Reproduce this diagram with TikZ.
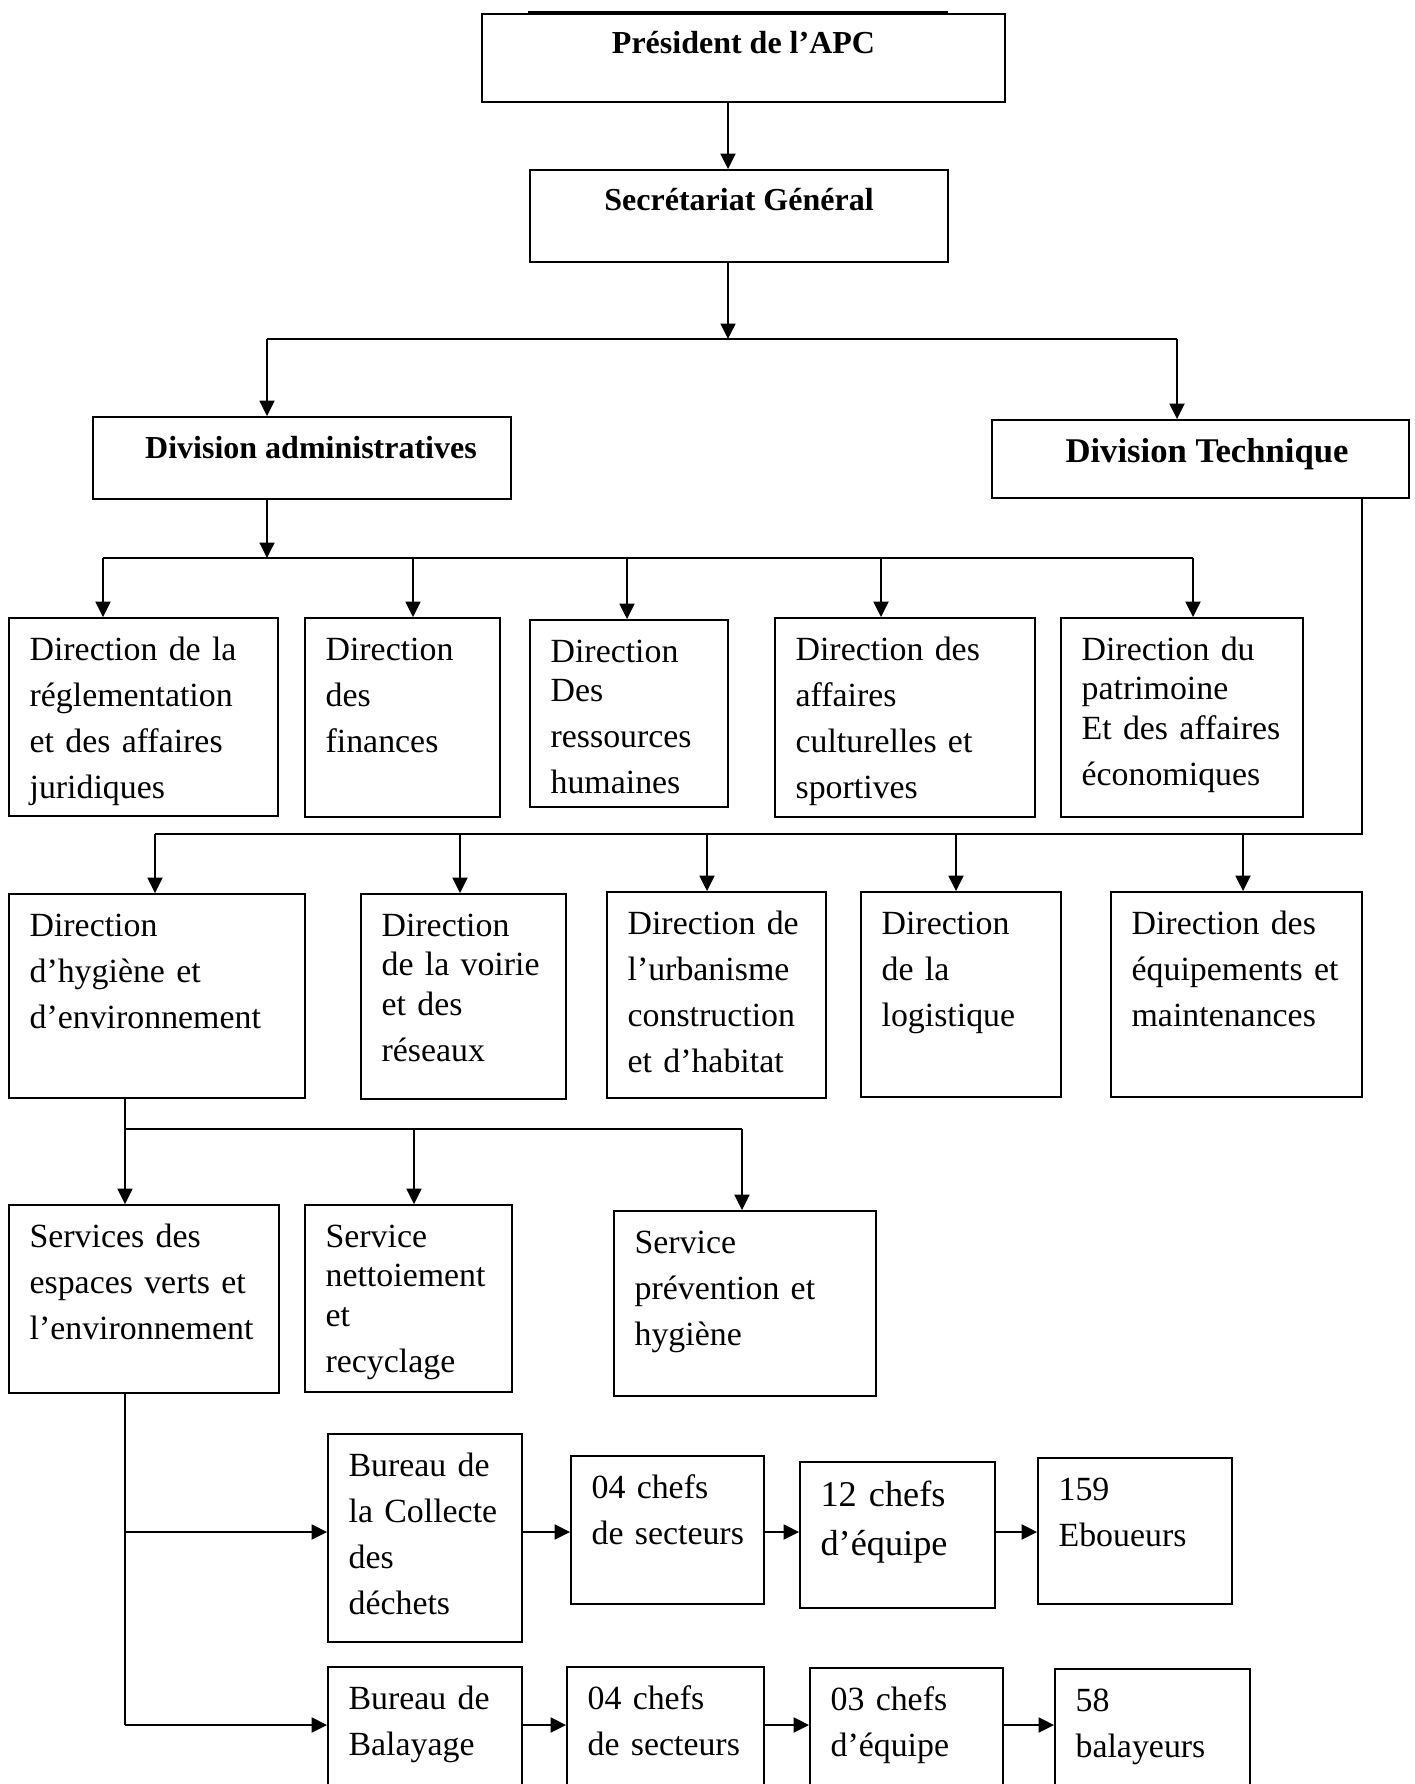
\documentclass[tikz,border=0pt]{standalone}
\usepackage{fontspec}
\setmainfont{Liberation Serif}
\usetikzlibrary{arrows.meta, fit, positioning}

\begin{document}
\begin{tikzpicture}[x=0.375pt, y=-0.375pt, >={Triangle[length=5.8pt, width=5.6pt]}]
  \tikzstyle{box}=[rectangle, draw=black, line width=0.7pt, inner sep=0pt]
  \tikzstyle{txt}=[anchor=base west, inner sep=0pt, align=left, text width=110pt, font=\fontsize{12.7}{17.25}\selectfont]
  \tikzstyle{head}=[anchor=base, inner sep=0pt, font=\fontsize{12}{14}\selectfont\bfseries]
  \tikzstyle{link}=[->, line width=0.75pt]

  \useasboundingbox (0,0) rectangle (1414,1784);
  \clip (0,0) rectangle (1414,1784);

  % top of the chart
  \node[box, fit={(482,14) (1005,102)}] (pres) {};
  \node[box, fit={(530,170) (948,262)}] (sg) {};
  \node[box, fit={(93,417) (511,499)}] (adm) {};
  \node[box, fit={(992,420) (1409,498)}] (tec) {};
  \draw[line width=0.75pt] (528,12) -- (948,12);

  \node[head] (presT) at ([shift={(0,40)}]pres.north) {Président de l’APC};
  \node[head] (sgT) at ([shift={(0,41)}]sg.north) {Secrétariat Général};
  \node[head] (admT) at ([shift={(9,42)}]adm.north) {Division administratives};
  \node[head, font=\fontsize{13}{16}\selectfont\bfseries] (tecT) at ([shift={(6.5,43.5)}]tec.north) {Division Technique};

  \coordinate (j1) at (728,339);
  \coordinate (jadm) at (267,339);
  \coordinate (jtec) at (1177,339);
  \draw[link] (pres.south -| j1) -- (sg.north -| j1);
  \draw[link] (sg.south -| j1) -- (j1);
  \draw[line width=0.75pt] (jadm) -- (jtec);
  \draw[link] (jadm) -- (jadm |- adm.north);
  \draw[link] (jtec) -- (jtec |- tec.north);

  % directions of the administrative division
  \node[box, fit={(9,618) (278,816)}] (reg) {};
  \node[box, fit={(305,618) (500,817)}] (fin) {};
  \node[box, fit={(530,620) (728,807)}] (rh) {};
  \node[box, fit={(775,618) (1035,817)}] (cult) {};
  \node[box, fit={(1061,618) (1303,817)}] (pat) {};

  \node[txt] (regT) at ([shift={(21,43)}]reg.north west) {Direction de la\\réglementation\\et des affaires\\juridiques};
  \node[txt] (finT) at ([shift={(21,43)}]fin.north west) {Direction\\des\\finances};
  \node[txt] (rhT) at ([shift={(21,43)}]rh.north west) {Direction\\[-2.3pt]Des\\ressources\\humaines};
  \node[txt] (cultT) at ([shift={(21,43)}]cult.north west) {Direction des\\affaires\\culturelles et\\sportives};
  \node[txt] (patT) at ([shift={(21,43)}]pat.north west) {Direction du\\[-2.3pt]patrimoine\\[-2.3pt]Et des affaires\\économiques};

  \coordinate (a1) at (103,558);
  \coordinate (a2) at (413,558);
  \coordinate (a3) at (627,558);
  \coordinate (a4) at (881,558);
  \coordinate (a5) at (1193,558);
  \draw[link] (adm.south -| jadm) -- (jadm |- a1);
  \draw[line width=0.75pt] (a1) -- (a5);
  \draw[link] (a1) -- (a1 |- reg.north);
  \draw[link] (a2) -- (a2 |- fin.north);
  \draw[link] (a3) -- (a3 |- rh.north);
  \draw[link] (a4) -- (a4 |- cult.north);
  \draw[link] (a5) -- (a5 |- pat.north);

  % directions of the technical division
  \node[box, fit={(9,894) (305,1098)}] (hyg) {};
  \node[box, fit={(361,894) (566,1099)}] (voi) {};
  \node[box, fit={(607,892) (826,1098)}] (urb) {};
  \node[box, fit={(861,892) (1061,1097)}] (logi) {};
  \node[box, fit={(1111,892) (1362,1097)}] (equ) {};

  \node[txt] (hygT) at ([shift={(21,43)}]hyg.north west) {Direction\\d’hygiène et\\d’environnement};
  \node[txt] (voiT) at ([shift={(21,43)}]voi.north west) {Direction\\[-2.3pt]de la voirie\\[-2.3pt]et des\\réseaux};
  \node[txt] (urbT) at ([shift={(21,43)}]urb.north west) {Direction de\\l’urbanisme\\construction\\et d’habitat};
  \node[txt] (logiT) at ([shift={(21,43)}]logi.north west) {Direction\\de la\\logistique};
  \node[txt] (equT) at ([shift={(21,43)}]equ.north west) {Direction des\\équipements et\\maintenances};

  \coordinate (k0) at (1362,834);
  \coordinate (k1) at (155,834);
  \coordinate (k2) at (460,834);
  \coordinate (k3) at (707,834);
  \coordinate (k4) at (956,834);
  \coordinate (k5) at (1243,834);
  \draw[line width=0.75pt] (tec.south -| k0) -- (k0) -- (k1);
  \draw[link] (k1) -- (k1 |- hyg.north);
  \draw[link] (k2) -- (k2 |- voi.north);
  \draw[link] (k3) -- (k3 |- urb.north);
  \draw[link] (k4) -- (k4 |- logi.north);
  \draw[link] (k5) -- (k5 |- equ.north);

  % services
  \node[box, fit={(9,1205) (279,1393)}] (esp) {};
  \node[box, fit={(305,1205) (512,1392)}] (net) {};
  \node[box, fit={(614,1211) (876,1396)}] (prev) {};

  \node[txt] (espT) at ([shift={(21,43)}]esp.north west) {Services des\\espaces verts et\\l’environnement};
  \node[txt] (netT) at ([shift={(21,43)}]net.north west) {Service\\[-2.3pt]nettoiement\\[-2.3pt]et\\recyclage};
  \node[txt] (prevT) at ([shift={(21,43)}]prev.north west) {Service\\prévention et\\hygiène};

  \coordinate (h0) at (125,1129);
  \coordinate (h2) at (414,1129);
  \coordinate (h3) at (742,1129);
  \draw[line width=0.75pt] (hyg.south -| h0) -- (h0) -- (h3);
  \draw[link] (h0) -- (h0 |- esp.north);
  \draw[link] (h2) -- (h2 |- net.north);
  \draw[link] (h3) -- (h3 |- prev.north);

  % bureaux and staff
  \node[box, fit={(328,1434) (522,1642)}] (col) {};
  \node[box, fit={(571,1456) (764,1604)}] (csa) {};
  \node[box, fit={(800,1462) (995,1608)}] (cea) {};
  \node[box, fit={(1038,1458) (1232,1604)}] (ebo) {};
  \node[box, fit={(328,1667) (522,1800)}] (bal) {};
  \node[box, fit={(567,1667) (764,1800)}] (csb) {};
  \node[box, fit={(810,1668) (1003,1800)}] (ceb) {};
  \node[box, fit={(1055,1669) (1250,1800)}] (bly) {};

  \node[txt] (colT) at ([shift={(21,43)}]col.north west) {Bureau de\\la Collecte\\des\\déchets};
  \node[txt] (csaT) at ([shift={(21,43)}]csa.north west) {04 chefs\\de secteurs};
  \node[txt, font=\fontsize{13.6}{18.4}\selectfont] (ceaT) at ([shift={(21,45)}]cea.north west) {12 chefs\\d’équipe};
  \node[txt] (eboT) at ([shift={(21,43)}]ebo.north west) {159\\Eboueurs};
  \node[txt] (balT) at ([shift={(21,43)}]bal.north west) {Bureau de\\Balayage};
  \node[txt] (csbT) at ([shift={(21,43)}]csb.north west) {04 chefs\\de secteurs};
  \node[txt] (cebT) at ([shift={(21,43)}]ceb.north west) {03 chefs\\d’équipe};
  \node[txt] (blyT) at ([shift={(21,43)}]bly.north west) {58\\balayeurs};

  \coordinate (g1) at (125,1532);
  \coordinate (g2) at (125,1725);
  \draw[line width=0.75pt] (esp.south -| g1) -- (g2);
  \draw[link] (g1) -- (g1 -| col.west);
  \draw[link] (g2) -- (g2 -| bal.west);
  \draw[link] (col.east |- g1) -- (csa.west |- g1);
  \draw[link] (csa.east |- g1) -- (cea.west |- g1);
  \draw[link] (cea.east |- g1) -- (ebo.west |- g1);
  \draw[link] (bal.east |- g2) -- (csb.west |- g2);
  \draw[link] (csb.east |- g2) -- (ceb.west |- g2);
  \draw[link] (ceb.east |- g2) -- (bly.west |- g2);

\end{tikzpicture}
\end{document}
